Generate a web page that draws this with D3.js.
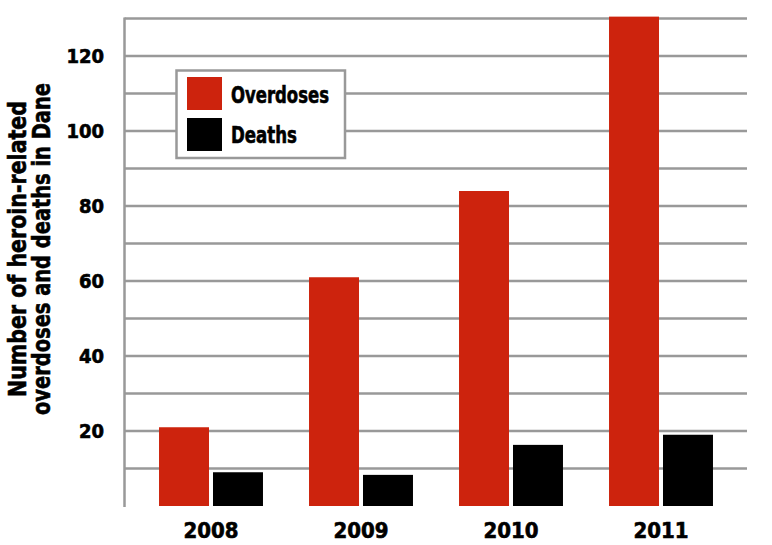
<!DOCTYPE html>
<html>
<head>
<meta charset="utf-8">
<script src="https://cdn.jsdelivr.net/npm/d3@7"></script>
<style>
  html, body { margin: 0; padding: 0; background: #fff; }
  svg { display: block; }
</style>
</head>
<body>
<svg id="chart" width="772" height="545"></svg>
<script>
const years = ["2008", "2009", "2010", "2011"];
const seriesNames = ["Overdoses", "Deaths"];
const overdoses = [21, 61, 84, 130.5];
const deaths = [9, 8.3, 16.3, 19];
const tickLabels = [20, 40, 60, 80, 100, 120];
const gridValues = [10, 20, 30, 40, 50, 60, 70, 80, 90, 100, 110, 120, 130];
const colors = ["#cd230d", "#000000"];

(function () {
const svg = d3.select("#chart");
const plotLeft = 124.5, plotRight = 747, plotTop = 18.5, plotBottom = 506;
const font = "'DejaVu Sans Condensed', 'DejaVu Sans', sans-serif";

const y = d3.scaleLinear().domain([0, 130]).range([plotBottom, plotTop]);
const x0 = d3.scaleBand().domain(years).range([136, 736]).paddingInner(0.307).paddingOuter(0.1535);
const x1 = d3.scaleBand().domain(seriesNames).range([0, x0.bandwidth()]).paddingInner(0.074);

const gridColor = "#999999";

// gridlines
svg.append("g").selectAll("line").data(gridValues).join("line")
  .attr("x1", plotLeft).attr("x2", plotRight)
  .attr("y1", d => y(d)).attr("y2", d => y(d))
  .attr("stroke", gridColor).attr("stroke-width", 2.5);

// vertical axis line
svg.append("line")
  .attr("x1", plotLeft).attr("x2", plotLeft)
  .attr("y1", y(130) - 1).attr("y2", plotBottom + 1)
  .attr("stroke", gridColor).attr("stroke-width", 2.5);

// y tick labels
svg.append("g").selectAll("text").data(tickLabels).join("text")
  .attr("x", 104).attr("y", d => y(d)).attr("dy", "0.36em")
  .attr("text-anchor", "end")
  .attr("font-family", font)
  .attr("font-weight", "bold").attr("font-size", 20)
  .attr("fill", "#000").attr("stroke", "#000").attr("stroke-width", 0.6)
  .text(d => d);

// bars
const data = years.map((yr, i) => ({ year: yr, values: [overdoses[i], deaths[i]] }));
const groups = svg.append("g").selectAll("g").data(data).join("g")
  .attr("transform", d => `translate(${x0(d.year)},0)`);
groups.selectAll("rect").data(d => d.values.map((v, j) => ({ key: seriesNames[j], v, j }))).join("rect")
  .attr("x", d => x1(d.key))
  .attr("width", x1.bandwidth())
  .attr("y", d => y(d.v))
  .attr("height", d => y(0) - y(d.v))
  .attr("fill", d => colors[d.j]);

// x labels
svg.append("g").selectAll("text").data(years).join("text")
  .attr("x", d => x0(d) + x0.bandwidth() / 2)
  .attr("y", 538)
  .attr("text-anchor", "middle")
  .attr("font-family", font)
  .attr("font-weight", "bold").attr("font-size", 22)
  .attr("fill", "#000").attr("stroke", "#000").attr("stroke-width", 0.6)
  .text(d => d);

// y title
const titleLines = ["Number of heroin-related", "overdoses and deaths in Dane"];
const titleBase = [26, 50];
const titleLen = [296, 332];
svg.append("g").selectAll("text").data(titleLines).join("text")
  .attr("transform", (d, i) => `translate(${titleBase[i]},249) rotate(-90)`)
  .attr("text-anchor", "middle")
  .attr("font-family", font)
  .attr("font-weight", "bold").attr("font-size", 25)
  .attr("textLength", (d, i) => titleLen[i])
  .attr("lengthAdjust", "spacingAndGlyphs")
  .attr("fill", "#000").attr("stroke", "#000").attr("stroke-width", 0.6)
  .text(d => d);

// legend
const lg = svg.append("g");
lg.append("rect").attr("x", 176.5).attr("y", 70.5).attr("width", 168.5).attr("height", 87.5)
  .attr("fill", "#fff").attr("stroke", gridColor).attr("stroke-width", 2.5);
const legendRows = [77, 118];
const legendBase = [103, 143];
const legendLen = [98, 66];
seriesNames.forEach((name, i) => {
  lg.append("rect").attr("x", 187).attr("y", legendRows[i]).attr("width", 35).attr("height", 33)
    .attr("fill", colors[i]);
  lg.append("text").attr("x", 231).attr("y", legendBase[i])
    .attr("font-family", font)
    .attr("font-weight", "bold").attr("font-size", 23)
    .attr("textLength", legendLen[i])
    .attr("lengthAdjust", "spacingAndGlyphs")
    .attr("fill", "#000").attr("stroke", "#000").attr("stroke-width", 0.6)
    .text(name);
});
})();
</script>
</body>
</html>
